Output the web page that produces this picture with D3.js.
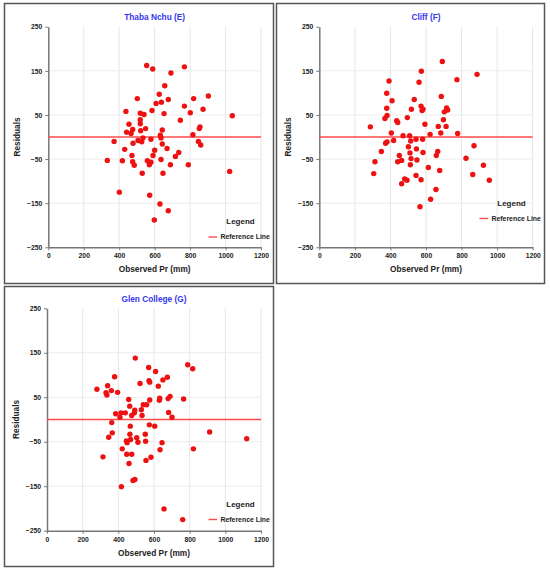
<!DOCTYPE html>
<html>
<head>
<meta charset="utf-8">
<script src="https://cdn.jsdelivr.net/npm/d3@7"></script>
<style>
  html, body { margin: 0; padding: 0; background: #fff; }
  svg { display: block; font-family: "Liberation Sans", Arial, sans-serif; }
</style>
</head>
<body>
<div id="chart"></div>
<script>
(function () {
  "use strict";

  // observed precipitation (mm) and residuals
  var thabaNchu = [
    [333, -53], [371, -10], [401, -125], [431, -28], [418, -54], [438, 58], [442, 11], [455, 29],
    [467, 8], [476, 17], [472, -42], [478, -14], [476, -56], [485, -64], [502, 87], [506, -8],
    [519, 54], [519, 39], [519, 30], [521, 14], [527, -11], [540, 51], [534, -2], [530, -82],
    [549, 19], [555, 162], [559, -54], [570, -63], [572, -132], [579, -57], [579, -5], [585, 60],
    [589, 154], [591, -42], [600, -30], [598, -188], [608, 76], [626, 97], [630, -152], [632, 4],
    [636, -2], [636, -51], [638, 79], [643, 16], [643, -16], [647, -82], [653, 53], [657, 116],
    [670, -26], [677, -167], [677, 85], [689, -63], [692, 145], [717, -44], [736, -35], [745, 38],
    [768, 159], [768, 70], [790, -63], [801, 55], [816, 5], [820, 87], [847, -10], [852, 19],
    [856, 23], [860, -18], [873, 63], [903, 93], [1023, -78], [1038, 48]
  ];

  var cliff = [
    [287, 23], [306, -83], [313, -56], [349, -33], [369, 42], [379, 99], [379, 65], [381, 49],
    [373, -14], [381, -11], [392, 127], [405, 9], [409, 82], [418, -8], [435, 37], [441, 33],
    [441, -56], [450, -42], [463, -53], [463, -106], [471, 3], [480, -95], [493, -98], [495, 44],
    [501, -22], [508, 3], [510, -36], [514, -9], [512, -63], [516, -49], [518, 63], [534, 85],
    [544, -87], [544, -5], [546, -27], [549, -52], [561, 124], [566, -158], [572, -97], [572, 70],
    [574, 149], [578, 60], [583, 63], [583, -35], [581, -5], [594, 29], [613, -69], [623, 6],
    [626, -141], [656, -119], [658, -42], [666, -33], [669, 24], [677, -76], [683, 9], [686, 92],
    [692, 171], [698, 39], [703, 57], [713, 24], [716, 66], [722, 61], [774, 130], [778, 8],
    [825, -48], [863, -85], [870, -20], [887, 142], [923, -64], [956, -98]
  ];

  var glenCollege = [
    [280, 68], [314, -84], [331, 60], [336, 55], [340, 76], [346, -40], [361, 65], [363, -7],
    [366, -30], [379, 96], [385, 13], [396, 61], [409, 5], [415, 15], [417, -151], [422, -66],
    [439, 15], [445, -48], [449, -52], [447, -78], [458, 45], [460, -99], [464, 30], [465, -33],
    [467, -15], [469, -45], [475, 9], [475, -78], [482, -137], [490, 15], [492, 21], [493, -135],
    [495, 138], [503, -41], [510, -51], [522, 81], [529, 22], [533, 9], [540, 33], [551, -33],
    [553, -49], [555, -92], [559, 33], [570, 117], [572, 87], [574, -12], [576, 84], [576, 44],
    [583, -85], [604, -15], [609, 108], [624, 75], [630, 43], [632, 48], [634, -68], [645, -52],
    [650, 89], [656, -201], [675, 95], [679, 47], [682, 16], [690, 52], [701, 5], [761, -225],
    [766, 46], [789, 123], [817, 114], [821, -66], [912, -28], [1120, -43]
  ];

  var xTicks = [0, 200, 400, 600, 800, 1000, 1200];
  var yTicks = [250, 150, 50, -50, -150, -250];
  var referenceValue = 0;

  var panels = [
    { title: "Thaba Nchu (E)", data: thabaNchu,
      frame: [4.5, 3.5, 269, 280], plot: [48.3, 26.7, 261, 247.3], legendY: 237 },
    { title: "Cliff (F)", data: cliff,
      frame: [276.5, 3.5, 268, 280], plot: [319.3, 26.7, 532.7, 247.3], legendY: 218.5 },
    { title: "Glen College (G)", data: glenCollege,
      frame: [4.5, 286.5, 269, 280], plot: [47, 308.3, 261, 530.7], legendY: 519.5 }
  ];

  var svg = d3.select("#chart").append("svg")
    .attr("width", 550)
    .attr("height", 571);

  var fmt = d3.format("d");

  panels.forEach(function (p) {
    var g = svg.append("g");
    var x = d3.scaleLinear().domain([0, 1200]).range([p.plot[0], p.plot[2]]);
    var y = d3.scaleLinear().domain([-250, 250]).range([p.plot[3], p.plot[1]]);

    g.append("rect")
      .attr("x", p.frame[0]).attr("y", p.frame[1])
      .attr("width", p.frame[2]).attr("height", p.frame[3])
      .attr("fill", "#fff")
      .attr("stroke", "#555")
      .attr("stroke-width", 1.5);

    // grid
    g.append("g").selectAll("line").data(xTicks.slice(1)).join("line")
      .attr("x1", function (d) { return x(d); }).attr("x2", function (d) { return x(d); })
      .attr("y1", y(250)).attr("y2", y(-250))
      .attr("stroke", "#e6e6e6").attr("stroke-width", 1);
    g.append("g").selectAll("line").data(yTicks.slice(1, -1)).join("line")
      .attr("x1", x(0)).attr("x2", x(1200))
      .attr("y1", function (d) { return y(d); }).attr("y2", function (d) { return y(d); })
      .attr("stroke", "#ececec").attr("stroke-width", 1);

    // axes
    var xAxis = g.append("g")
      .attr("transform", "translate(0," + y(-250) + ")")
      .call(d3.axisBottom(x).tickValues(xTicks).tickFormat(fmt)
        .tickSize(3).tickSizeOuter(0).tickPadding(3));
    var yAxis = g.append("g")
      .attr("transform", "translate(" + x(0) + ",0)")
      .call(d3.axisLeft(y).tickValues(yTicks).tickFormat(fmt)
        .tickSize(3).tickSizeOuter(0).tickPadding(3));
    [xAxis, yAxis].forEach(function (a) {
      a.select(".domain").attr("stroke", "#777").attr("stroke-width", 1.5);
      a.selectAll(".tick line").attr("stroke", "#777");
      a.selectAll(".tick text")
        .attr("fill", "#222")
        .attr("font-size", 6.8)
        .attr("font-weight", "bold")
        .attr("font-family", "'Liberation Sans', Arial, sans-serif");
    });

    // reference line
    g.append("line")
      .attr("x1", x(0)).attr("x2", x(1200))
      .attr("y1", y(referenceValue)).attr("y2", y(referenceValue))
      .attr("stroke", "#ff4a4a").attr("stroke-width", 1.4);

    // points
    g.append("g").selectAll("circle").data(p.data).join("circle")
      .attr("cx", function (d) { return x(d[0]); })
      .attr("cy", function (d) { return y(d[1]); })
      .attr("r", 2.7)
      .attr("fill", "#ee1111");

    var cx = (p.plot[0] + p.plot[2]) / 2;
    g.append("text")
      .attr("x", cx).attr("y", p.plot[1] - 6.5)
      .attr("text-anchor", "middle")
      .attr("font-size", 8.3).attr("font-weight", "bold")
      .attr("fill", "#3535f0")
      .text(p.title);

    g.append("text")
      .attr("x", cx).attr("y", p.plot[3] + 25)
      .attr("text-anchor", "middle")
      .attr("font-size", 8.3).attr("font-weight", "bold")
      .attr("fill", "#222")
      .text("Observed Pr (mm)");

    var ly = (p.plot[1] + p.plot[3]) / 2;
    var lx = p.plot[0] - 28;
    g.append("text")
      .attr("transform", "translate(" + lx + "," + ly + ") rotate(-90)")
      .attr("text-anchor", "middle")
      .attr("font-size", 8.3).attr("font-weight", "bold")
      .attr("fill", "#222")
      .text("Residuals");

    // legend
    var legX = p.frame[0] + p.frame[2] - 65;
    g.append("text")
      .attr("x", legX + 32).attr("y", p.legendY - 13)
      .attr("text-anchor", "middle")
      .attr("font-size", 8).attr("font-weight", "bold")
      .attr("fill", "#222")
      .text("Legend");
    g.append("line")
      .attr("x1", legX).attr("x2", legX + 8.5)
      .attr("y1", p.legendY).attr("y2", p.legendY)
      .attr("stroke", "#ff4a4a").attr("stroke-width", 1.4);
    g.append("text")
      .attr("x", legX + 12).attr("y", p.legendY + 2.4)
      .attr("font-size", 6.9).attr("font-weight", "bold")
      .attr("fill", "#222")
      .text("Reference Line");
  });
})();
</script>
</body>
</html>
